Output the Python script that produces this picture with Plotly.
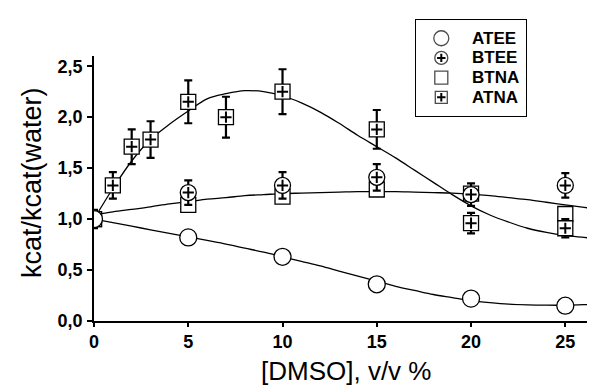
import plotly.graph_objects as go

# ---------------- data ----------------
x_atee = [0, 5, 10, 15, 20, 25]
y_atee = [1.0, 0.82, 0.63, 0.36, 0.22, 0.15]

x_btee = [0, 5, 10, 15, 20, 25]
y_btee = [1.0, 1.26, 1.33, 1.41, 1.24, 1.33]
e_btee = [0.0, 0.12, 0.13, 0.13, 0.11, 0.12]

x_btna = [0, 5, 10, 15, 20, 25]
y_btna = [1.0, 1.14, 1.22, 1.29, 1.25, 1.05]
e_btna = [0.0, 0.04, 0.04, 0.04, 0.04, 0.04]

x_atna = [0, 1, 2, 3, 5, 7, 10, 15, 20, 25]
y_atna = [1.0, 1.33, 1.71, 1.78, 2.15, 2.0, 2.25, 1.88, 0.96, 0.91]
e_atna = [0.09, 0.13, 0.17, 0.18, 0.21, 0.2, 0.22, 0.19, 0.1, 0.09]

# fitted curves
x_fit = list(range(0, 28))
fit_atee = [1.0, 0.965, 0.93, 0.895, 0.86, 0.825, 0.79, 0.755, 0.715, 0.675, 0.63,
            0.585, 0.54, 0.49, 0.44, 0.39, 0.34, 0.30, 0.26, 0.23, 0.20, 0.18, 0.165,
            0.158, 0.155, 0.155, 0.16, 0.165]
fit_btna = [1.04, 1.07, 1.095, 1.12, 1.15, 1.17, 1.195, 1.21, 1.23, 1.24, 1.25,
            1.255, 1.26, 1.265, 1.27, 1.27, 1.27, 1.265, 1.26, 1.255, 1.245, 1.23,
            1.21, 1.19, 1.165, 1.14, 1.115, 1.09]
fit_atna = [1.0, 1.3, 1.57, 1.78, 1.93, 2.06, 2.18, 2.23, 2.26, 2.25, 2.21, 2.14,
            2.05, 1.94, 1.82, 1.71, 1.6, 1.48, 1.36, 1.24, 1.13, 1.04, 0.97, 0.91,
            0.87, 0.84, 0.82, 0.80]

x_ticks = [0, 5, 10, 15, 20, 25]
x_ticktext = ["0", "5", "10", "15", "20", "25"]
y_ticks = [0, 0.5, 1.0, 1.5, 2.0, 2.5]
y_ticktext = ["0,0", "0,5", "1,0", "1,5", "2,0", "2,5"]

legend_names = ["ATEE", "BTEE", "BTNA", "ATNA"]

x_title = "[DMSO], v/v %"
y_title = "kcat/kcat(water)"

# ---------------- figure ----------------
FONT = "Liberation Sans, Arial, sans-serif"
fig = go.Figure()

for fy in (fit_atee, fit_btna, fit_atna):
    fig.add_trace(go.Scatter(x=x_fit, y=fy, mode="lines", line=dict(color="black", width=1.3, shape="spline"),
                             showlegend=False, hoverinfo="skip"))

err_style = dict(type="data", color="black", thickness=2.2, width=4)

# BTNA (plain squares)
fig.add_trace(go.Scatter(x=x_btna, y=y_btna, mode="markers",
                         error_y=dict(array=e_btna, **err_style),
                         marker=dict(symbol="square", size=15, color="white", line=dict(color="black", width=1.3)),
                         showlegend=False))
# ATNA (squares with plus)
fig.add_trace(go.Scatter(x=x_atna, y=y_atna, mode="markers",
                         error_y=dict(array=e_atna, **err_style),
                         marker=dict(symbol="square", size=15, color="white", line=dict(color="black", width=1.3)),
                         showlegend=False))
fig.add_trace(go.Scatter(x=x_atna, y=y_atna, mode="markers",
                         marker=dict(symbol="cross-thin", size=8, line=dict(color="black", width=2)),
                         showlegend=False))
# BTEE (circles with plus)
fig.add_trace(go.Scatter(x=x_btee, y=y_btee, mode="markers",
                         error_y=dict(array=e_btee, **err_style),
                         marker=dict(symbol="circle", size=16, color="white", line=dict(color="black", width=1.3)),
                         showlegend=False))
fig.add_trace(go.Scatter(x=x_btee, y=y_btee, mode="markers",
                         marker=dict(symbol="cross-thin", size=8, line=dict(color="black", width=2)),
                         showlegend=False))
# ATEE (open circles)
fig.add_trace(go.Scatter(x=x_atee, y=y_atee, mode="markers",
                         marker=dict(symbol="circle", size=17, color="white", line=dict(color="black", width=1.3)),
                         showlegend=False))

# ---------------- manual legend on an overlay axis ----------------
n = len(legend_names)
leg_y = [0.81 - i * 0.205 for i in range(n)]
leg_x = [0.23] * n
leg_sym = ["circle", "circle", "square", "square"]
leg_size = [15, 13, 13, 12]
fig.add_trace(go.Scatter(x=leg_x, y=leg_y, xaxis="x2", yaxis="y2", mode="markers",
                         marker=dict(symbol=leg_sym, size=leg_size, color="white",
                                     line=dict(color="black", width=1.3)),
                         showlegend=False, hoverinfo="skip"))
plus_idx = [1, 3]
fig.add_trace(go.Scatter(x=[leg_x[i] for i in plus_idx], y=[leg_y[i] for i in plus_idx],
                         xaxis="x2", yaxis="y2", mode="markers",
                         marker=dict(symbol="cross-thin", size=6, line=dict(color="black", width=2)),
                         showlegend=False, hoverinfo="skip"))

annotations = []
for name, yy in zip(legend_names, leg_y):
    annotations.append(dict(x=0.49, y=yy, xref="x2", yref="y2", text=name, showarrow=False,
                            xanchor="left", yanchor="middle",
                            font=dict(family=FONT, size=17, color="black", weight="bold")))

W, H = 595, 388
L, R, T, B = 86, 0, 10, 75
pw, ph = W - L - R, H - T - B
axis_top_px = 48
y_dom_top = (H - B - axis_top_px) / ph

annotations.append(dict(x=(338 - L) / pw, y=(H - B - 363) / ph, xref="paper", yref="paper",
                        text=x_title, showarrow=False, xanchor="center", yanchor="middle",
                        font=dict(family=FONT, size=26, color="black")))
annotations.append(dict(x=(24 - L) / pw, y=(H - B - 175) / ph, xref="paper", yref="paper",
                        text=y_title, showarrow=False, xanchor="center", yanchor="middle", textangle=-90,
                        font=dict(family=FONT, size=27, color="black")))

tickfont = dict(family=FONT, size=18, color="black", weight="bold")

fig.update_layout(
    width=W, height=H,
    margin=dict(l=L, r=R, t=T, b=B),
    paper_bgcolor="white", plot_bgcolor="white",
    showlegend=False,
    xaxis=dict(range=[0, 27], tickvals=x_ticks, ticktext=x_ticktext, showline=True, linecolor="black",
               linewidth=1.5, ticks="outside", ticklen=4, tickwidth=1.5, tickcolor="black",
               showgrid=False, zeroline=False, tickfont=tickfont, anchor="y", ticklabelstandoff=0),
    yaxis=dict(range=[0, 2.6], domain=[0, y_dom_top], tickvals=y_ticks, ticktext=y_ticktext, showline=True,
               linecolor="black", linewidth=1.5, ticks="outside", ticklen=5, tickwidth=1.5,
               tickcolor="black", showgrid=False, zeroline=False, tickfont=tickfont, anchor="x",
               ticklabelstandoff=1),
    xaxis2=dict(domain=[(408 - L) / pw, (518 - L) / pw], range=[0, 1], anchor="y2", showline=True,
                mirror=True, linecolor="black", linewidth=1.3, showticklabels=False, ticks="",
                showgrid=False, zeroline=False, fixedrange=True),
    yaxis2=dict(domain=[(H - B - 108) / ph, (H - B - 12) / ph], range=[0, 1], anchor="x2", showline=True,
                mirror=True, linecolor="black", linewidth=1.3, showticklabels=False, ticks="",
                showgrid=False, zeroline=False, fixedrange=True),
    annotations=annotations,
)

fig.write_html("out.html")
